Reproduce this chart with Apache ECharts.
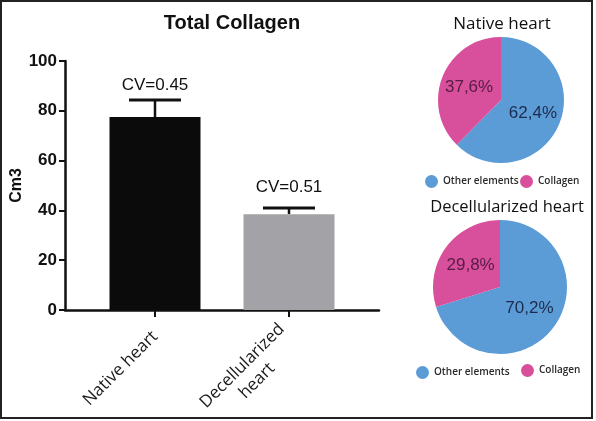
<!DOCTYPE html>
<html>
<head>
<meta charset="utf-8">
<script src="https://cdn.jsdelivr.net/npm/echarts@6/dist/echarts.min.js"></script>
<style>
  html, body { margin: 0; padding: 0; background: #fff; }
  #chart { width: 596px; height: 421px; }
</style>
</head>
<body>
<div id="chart"></div>
<script>
// ---- Data ----
const categories = ['Native heart', 'Decellularized heart'];
const barValues = [77.5, 38.5];
const errorTops = [84.3, 41.0];
const cvLabels = ['CV=0.45', 'CV=0.51'];
const cvLabelValues = [90.2, 49.4];
const yMin = 0, yMax = 100, yInterval = 20;

const pieNames = ['Other elements', 'Collagen'];
const nativePie = [62.4, 37.6];
const decellPie = [70.2, 29.8];
const pieLabels = { native: ['62,4%', '37,6%'], decell: ['70,2%', '29,8%'] };

// ---- Styles ----
const barColors = ['#0b0b0b', '#a3a3a7'];
const pieColors = ['#5b9bd6', '#d8509c'];
const pieLabelColors = ['#1e2b4e', '#561c44'];
const sans = '"Liberation Sans", Arial, sans-serif';
const calibriLike = '"Open Sans", "Noto Sans", sans-serif';

const chart = echarts.init(document.getElementById('chart'), null, { renderer: 'canvas' });

function pieData(vals, labels) {
  return vals.map((v, i) => ({
    name: pieNames[i], value: v,
    itemStyle: { color: pieColors[i] },
    label: { formatter: labels[i], color: pieLabelColors[i] }
  }));
}

const legendText = { fontFamily: calibriLike, fontSize: 10, fontWeight: 600, color: '#2a2a2a' };

const option = {
  backgroundColor: '#ffffff',
  animation: false,
  title: [
    { text: 'Total Collagen', left: 227, top: 8, textAlign: 'center',
      textStyle: { fontFamily: sans, fontWeight: 'bold', fontSize: 20, color: '#111' } },
    { text: 'Native heart', left: 497, top: 11, textAlign: 'center',
      textStyle: { fontFamily: calibriLike, fontWeight: 'normal', fontSize: 17, color: '#111' } },
    { text: 'Decellularized heart', left: 502, top: 194, textAlign: 'center',
      textStyle: { fontFamily: calibriLike, fontWeight: 'normal', fontSize: 16.5, color: '#111' } }
  ],
  legend: [
    { data: ['Other elements'], left: 420, top: 170, icon: 'circle', itemWidth: 13, itemHeight: 13,
      itemGap: 0, itemTextGap: 4, selectedMode: false, textStyle: legendText },
    { data: ['Collagen'], left: 515, top: 170, icon: 'circle', itemWidth: 13, itemHeight: 13,
      itemGap: 0, itemTextGap: 14, selectedMode: false, textStyle: legendText },
    { data: ['Other elements'], left: 411, top: 361, icon: 'circle', itemWidth: 13, itemHeight: 13,
      itemGap: 0, itemTextGap: 6, selectedMode: false, textStyle: legendText },
    { data: ['Collagen'], left: 516, top: 359, icon: 'circle', itemWidth: 13, itemHeight: 13,
      itemGap: 0, itemTextGap: 16, selectedMode: false, textStyle: legendText }
  ],
  grid: [
    { left: 65, top: 61, width: 314, height: 249, containLabel: false, outerBoundsMode: 'none' },
    { left: 88, top: 61, width: 268, height: 249, containLabel: false, outerBoundsMode: 'none' }
  ],
  xAxis: [
    { gridIndex: 0, type: 'value', min: 0, max: 1,
      axisLine: { show: true, lineStyle: { color: '#111', width: 2.5 } },
      axisTick: { show: false }, axisLabel: { show: false }, splitLine: { show: false } },
    { gridIndex: 1, type: 'category', data: categories,
      axisLine: { show: false },
      axisTick: { show: true, alignWithLabel: true, length: 7, lineStyle: { color: '#111', width: 2 } },
      axisLabel: {
        rotate: 45, margin: 24, interval: 0,
        fontFamily: calibriLike, fontSize: 17, color: '#1a1a1a',
        formatter: function (v) {
          const parts = v.split(' ');
          if (v === 'Decellularized heart') return '{c|' + parts[0] + '}\n{c|' + parts[1] + '}';
          return v;
        },
        rich: { c: { align: 'center', fontFamily: calibriLike, fontSize: 17, color: '#1a1a1a', lineHeight: 21 } }
      },
      splitLine: { show: false } }
  ],
  yAxis: [
    { gridIndex: 0, type: 'value', min: yMin, max: yMax, interval: yInterval,
      name: 'Cm3', nameLocation: 'middle', nameGap: 40, nameRotate: 90, nameMoveOverlap: false,
      nameTextStyle: { fontFamily: sans, fontWeight: 'bold', fontSize: 16, color: '#111' },
      axisLine: { show: true, lineStyle: { color: '#111', width: 2.5 } },
      axisTick: { show: true, length: 6, lineStyle: { color: '#111', width: 2 } },
      axisLabel: { margin: 8, fontFamily: sans, fontWeight: 'bold', fontSize: 17, color: '#111' },
      splitLine: { show: false } },
    { gridIndex: 1, type: 'value', min: yMin, max: yMax, interval: yInterval, show: false,
      splitLine: { show: false } }
  ],
  series: [
    { type: 'bar', xAxisIndex: 1, yAxisIndex: 1, barWidth: 91,
      data: barValues.map((v, i) => ({ value: v, itemStyle: { color: barColors[i] } })) },
    { type: 'custom', xAxisIndex: 1, yAxisIndex: 1,
      data: barValues.map((v, i) => [i, v, errorTops[i], cvLabelValues[i]]),
      renderItem: function (params, api) {
        const x = api.coord([api.value(0), 0])[0];
        const yb = api.coord([api.value(0), api.value(1)])[1];
        const ye = api.coord([api.value(0), api.value(2)])[1];
        const yl = api.coord([api.value(0), api.value(3)])[1];
        const half = 26;
        const idx = params.dataIndex;
        return {
          type: 'group',
          children: [
            { type: 'line', shape: { x1: x, y1: yb, x2: x, y2: ye }, style: { stroke: '#111', lineWidth: 2.5 } },
            { type: 'line', shape: { x1: x - half, y1: ye, x2: x + half, y2: ye }, style: { stroke: '#111', lineWidth: 3 } },
            { type: 'text', x: x, y: yl, style: { text: cvLabels[idx], fill: '#111', font: '17px ' + sans, textAlign: 'center', textVerticalAlign: 'middle' } }
          ]
        };
      } },
    { type: 'pie', center: [501, 100], radius: 63, startAngle: 90, clockwise: true,
      label: { position: 'inside', fontFamily: sans, fontSize: 17 },
      labelLine: { show: false }, emphasis: { disabled: true },
      itemStyle: { borderWidth: 0 },
      data: pieData(nativePie, pieLabels.native) },
    { type: 'pie', center: [500, 287], radius: 67, startAngle: 90, clockwise: true,
      label: { position: 'inside', fontFamily: sans, fontSize: 17 },
      labelLine: { show: false }, emphasis: { disabled: true },
      itemStyle: { borderWidth: 0 },
      data: pieData(decellPie, pieLabels.decell) }
  ],
  graphic: [
    { type: 'rect', silent: true, z: 100,
      shape: { x: 1, y: 1, width: 591, height: 417 },
      style: { fill: 'none', stroke: '#222', lineWidth: 2 } }
  ]
};

chart.setOption(option);
</script>
</body>
</html>
